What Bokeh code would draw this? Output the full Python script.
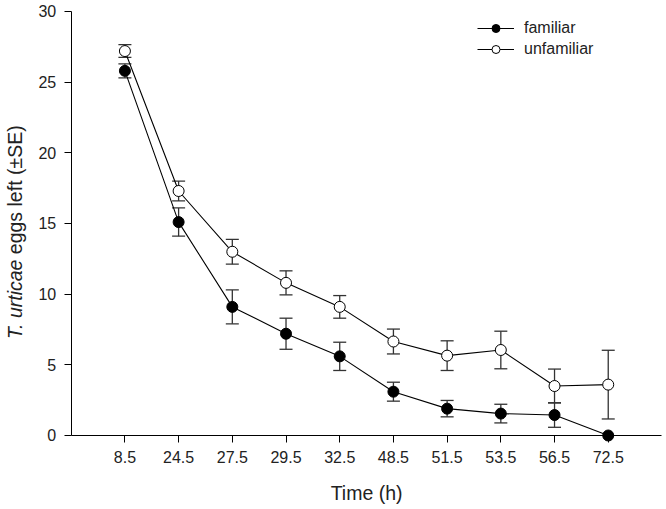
import math
from bokeh.plotting import figure
from bokeh.models import (Range1d, FixedTicker, Whisker, ColumnDataSource, Label,
                          Legend, LegendItem, TeeHead)
from bokeh.embed import file_html
from bokeh.resources import INLINE

# ---- data ----
times = ["8.5", "24.5", "27.5", "29.5", "32.5", "48.5", "51.5", "53.5", "56.5", "72.5"]
familiar = [25.8, 15.1, 9.1, 7.2, 5.6, 3.1, 1.9, 1.55, 1.45, 0.0]
familiar_se = [0.5, 1.0, 1.2, 1.1, 1.0, 0.67, 0.58, 0.66, 0.87, 0.0]
unfamiliar = [27.2, 17.3, 13.0, 10.8, 9.1, 6.65, 5.65, 6.05, 3.5, 3.6]
unfamiliar_se = [0.45, 0.7, 0.88, 0.85, 0.8, 0.88, 1.05, 1.33, 1.2, 2.43]
y_ticks = [0, 5, 10, 15, 20, 25, 30]

FONT = "Liberation Sans"
TXT = "#222222"
xpos = list(range(1, len(times) + 1))

p = figure(width=666, height=509, output_backend="svg", toolbar_location=None,
           x_range=Range1d(-1.3166, 11.085), y_range=Range1d(-5.236, 30.778),
           min_border_left=0, min_border_right=0, min_border_top=0, min_border_bottom=0)
p.outline_line_color = None
p.xgrid.visible = False
p.ygrid.visible = False

# axes (fixed at the data origin)
p.yaxis.fixed_location = 0
p.xaxis.fixed_location = 0
p.xaxis.bounds = (0, 11)
p.yaxis.bounds = (0, 30)
p.xaxis.ticker = FixedTicker(ticks=xpos)
p.xaxis.major_label_overrides = {x: t for x, t in zip(xpos, times)}
p.yaxis.ticker = FixedTicker(ticks=y_ticks)
for ax in (p.xaxis, p.yaxis):
    ax.major_tick_in = 0
    ax.major_tick_out = 7
    ax.minor_tick_line_color = None
    ax.axis_line_color = "black"
    ax.major_tick_line_color = "black"
    ax.major_label_text_font = FONT
    ax.major_label_text_font_size = "16px"
    ax.major_label_text_color = TXT
p.xaxis.major_label_standoff = 9
p.yaxis.major_label_standoff = 8

# x-axis title
p.add_layout(Label(x=5.5, y=-4.1, text="Time (h)", text_align="center",
                   text_baseline="middle", text_font=FONT, text_font_size="19.5px",
                   text_color=TXT))

# y-axis title, italic species name + normal text
split_y = 12.45
p.add_layout(Label(x=-1.05, y=split_y, text="T. urticae", angle=math.pi / 2,
                   text_align="right", text_baseline="middle",
                   text_font=FONT, text_font_size="19.5px", text_font_style="italic",
                   text_color=TXT))
p.add_layout(Label(x=-1.05, y=split_y + 0.38, text="eggs left (\u00b1SE)", angle=math.pi / 2,
                   text_align="left", text_baseline="middle",
                   text_font=FONT, text_font_size="19.5px", text_color=TXT))

# error bars
def add_whiskers(xs, vals, ses):
    src = ColumnDataSource(dict(x=xs,
                                lo=[v - s for v, s in zip(vals, ses)],
                                hi=[v + s for v, s in zip(vals, ses)]))
    p.add_layout(Whisker(source=src, base="x", lower="lo", upper="hi", dimension="height",
                         line_color="#333333", line_width=1.3, level="underlay",
                         upper_head=TeeHead(size=13, line_color="#333333", line_width=1.3),
                         lower_head=TeeHead(size=13, line_color="#333333", line_width=1.3)))

add_whiskers(xpos[:-1], familiar[:-1], familiar_se[:-1])
add_whiskers(xpos, unfamiliar, unfamiliar_se)

# lines and markers
lf = p.line(xpos, familiar, line_color="black", line_width=1.1)
lu = p.line(xpos, unfamiliar, line_color="black", line_width=1.1)
sf = p.scatter(xpos, familiar, marker="circle", size=11, fill_color="black",
               line_color="black", line_width=1)
su = p.scatter(xpos, unfamiliar, marker="circle", size=11, fill_color="white",
               line_color="black", line_width=1)

legend = Legend(items=[LegendItem(label="familiar", renderers=[lf, sf]),
                       LegendItem(label="unfamiliar", renderers=[lu, su])],
                location=(477, 450), glyph_width=37, glyph_height=20,
                label_height=20, spacing=1, label_standoff=10, padding=0, margin=0,
                border_line_color=None, background_fill_alpha=0,
                label_text_font=FONT, label_text_font_size="16px",
                label_text_color=TXT)
p.add_layout(legend)

open("out.html", "w").write(file_html(p, INLINE))
